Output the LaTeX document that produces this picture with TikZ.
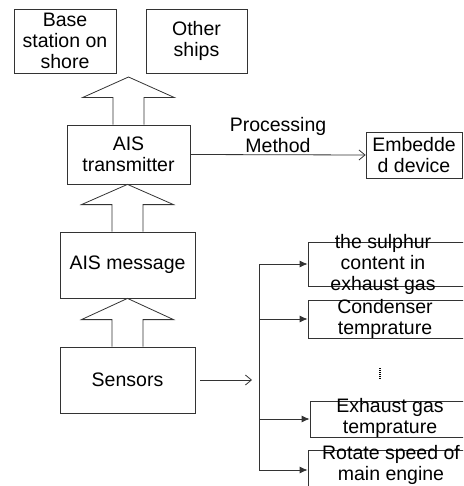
\documentclass[tikz,border=0pt]{standalone}
\usepackage{fontspec}
\setmainfont{Liberation Sans}
\usetikzlibrary{calc,arrows.meta}

% hollow block arrow pointing up: #1 lower node, #2 tip
\newcommand{\hollowup}[2]{%
  \draw[boxline] let \p1=(#1.north), \p2=(#2) in
    (\x1-15.5pt,\y1) -- (\x1-15.5pt,\y1+27pt) -- (\x1-46pt,\y1+27pt) -- (\x1,\y2)
    -- (\x1+46pt,\y1+27pt) -- (\x1+15.5pt,\y1+27pt) -- (\x1+15.5pt,\y1);}

\begin{document}
\begin{tikzpicture}[x=1pt,y=-1pt,font=\fontsize{19.5}{21}\selectfont]
		\tikzstyle{boxline}=[draw=black!80,line width=0.8pt]
		\tikzstyle{block}=[boxline,shape=rectangle,inner sep=0pt,align=center]
		\tikzstyle{label}=[inner sep=0pt,align=center]
		\tikzstyle{feed}=[boxline,-{Latex[length=8pt,width=7pt]}]
		\tikzstyle{open}=[boxline,-{Straight Barb[length=6pt,width=10pt]}]

		\clip (0,0) rectangle (463,486);

		\node[block,minimum width=102,minimum height=64](base) at (65,41){Base\\station on\\shore};
		\node[block,minimum width=101,minimum height=64](other) at (196.5,41){Other\\ships};
		\coordinate (up) at (128.5,77);

		\node[block,minimum width=123,minimum height=59](tx) at (128.5,154.5){AIS\\transmitter};
		\node[block,minimum width=135,minimum height=66](msg) at (127.5,265){AIS message};
		\node[block,minimum width=135,minimum height=66](sens) at (127.5,380){Sensors};

		\node[block,minimum width=96,minimum height=46](emb) at (414,155){Embedde\\d device};

		% sensor boxes, cut off at the right
		\node[block,minimum width=170,minimum height=44](s1) at (393,264){};
		\node[block,minimum width=170,minimum height=38](s2) at (393,319){};
		\node[block,minimum width=170,minimum height=36](s3) at (395,419){};
		\node[block,minimum width=170,minimum height=40](s4) at (393,470){};
		\node[label](s1t) at (383,264){the sulphur\\content in\\exhaust gas};
		\node[label](s2t) at (385,318.5){Condenser\\temprature};
		\node[label](s3t) at (390,418){Exhaust gas\\temprature};
		\node[label](s4t) at (391,465){Rotate speed of\\main engine};
		\draw[black,line width=2pt,dash pattern=on 1pt off 1pt] (380,368) -- (380,380);

		\hollowup{tx}{up}
		\hollowup{msg}{tx.south}
		\hollowup{sens}{msg.south}

		\draw[open] (tx.east) -- (emb.west) node[label,midway,above=2pt](proc){Processing\\Method};

		\coordinate (bus) at (259,0);
		\draw[open] ([xshift=5pt]sens.east) -- ([xshift=-7pt]bus |- sens.east);
		\draw[boxline] (bus |- s1.west) -- (bus |- s4.west);
		\draw[feed] (bus |- s1.west) -- (s1.west);
		\draw[feed] (bus |- s2.west) -- (s2.west);
		\draw[feed] (bus |- s3.west) -- (s3.west);
		\draw[feed] (bus |- s4.west) -- (s4.west);
	\end{tikzpicture}
\end{document}
